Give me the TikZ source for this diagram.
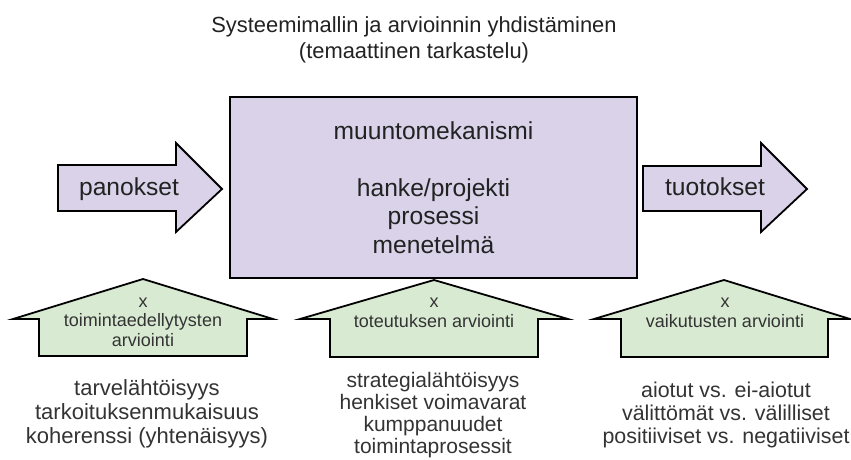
\documentclass[tikz,border=0pt]{standalone}
\usepackage{fontspec}
\setmainfont{Liberation Sans}
\definecolor{mechfill}{HTML}{D9D2E9}
\definecolor{evalfill}{HTML}{D9EAD3}
\definecolor{ink}{HTML}{222222}
\definecolor{softink}{HTML}{333333}
\begin{document}
\begin{tikzpicture}[x=1pt,y=-1pt,
  outline/.style={draw=black,line width=1.8pt,line join=miter},
  flowarrow/.style={outline,fill=mechfill},
  evalarrow/.style={outline,fill=evalfill},
  mainbox/.style={outline,fill=mechfill,inner sep=0pt,align=center,text=ink,
    font=\fontsize{24.6}{28.5}\selectfont},
  titletext/.style={align=center,text=ink,font=\fontsize{21.9}{26}\selectfont},
  flowlabel/.style={anchor=base,text=ink,inner sep=0pt,font=\fontsize{24.6}{28.5}\selectfont},
  evallabel/.style={align=center,text=softink,inner sep=0pt,font=\fontsize{18}{19.5}\selectfont},
  listtext/.style={align=center,text=softink,inner sep=0pt}]
\useasboundingbox (0,0) rectangle (851,460);

% heading
\node[titletext] (title) at (414,39.5)
  {Systeemimallin ja arvioinnin yhdistäminen\\(temaattinen tarkastelu)};

% transformation mechanism
\node[mainbox,minimum width=407pt,minimum height=181pt] (mech) at (433.5,187.5)
  {muuntomekanismi\\[28.5pt]hanke/projekti\\prosessi\\menetelmä};

% input and output arrows
\draw[flowarrow] (58,165) -- (176,165) -- (176,143) -- (222,189) -- (176,232)
  -- (176,211) -- (58,211) -- cycle;
\node[flowlabel] (inputs) at (129,195) {panokset};
\draw[flowarrow] (643,166) -- (761,166) -- (761,143) -- (807,189) -- (761,232)
  -- (761,211) -- (643,211) -- cycle;
\node[flowlabel] (outputs) at (715,195) {tuotokset};

% evaluation arrows
\draw[evalarrow] (143,279) -- (273,319) -- (247,319) -- (247,356) -- (39,356)
  -- (39,319) -- (13,319) -- cycle;
\node[evallabel] (evalpre) at (143,322) {x\\toimintaedellytysten\\arviointi};
\draw[evalarrow] (434,280) -- (568,319) -- (538,319) -- (538,357) -- (330,357)
  -- (330,319) -- (300,319) -- cycle;
\node[evallabel] (evalimpl) at (434,313) {x\\toteutuksen arviointi};
\draw[evalarrow] (724,280) -- (850,319) -- (828,319) -- (828,357) -- (621,357)
  -- (621,319) -- (594,319) -- cycle;
\node[evallabel] (evaleff) at (725,313) {x\\vaikutusten arviointi};

% criteria lists
\node[listtext,font=\fontsize{22}{24}\selectfont] (critpre) at (147,414)
  {tarvelähtöisyys\\tarkoituksenmukaisuus\\koherenssi (yhtenäisyys)};
\node[listtext,font=\fontsize{21}{22}\selectfont] (critimpl) at (433,415)
  {strategialähtöisyys\\henkiset voimavarat\\kumppanuudet\\toimintaprosessit};
\node[listtext,font=\fontsize{21.4}{23}\selectfont] (criteff) at (726,415)
  {aiotut vs. ei-aiotut\\välittömät vs. välilliset\\positiiviset vs. negatiiviset};
\end{tikzpicture}
\end{document}
